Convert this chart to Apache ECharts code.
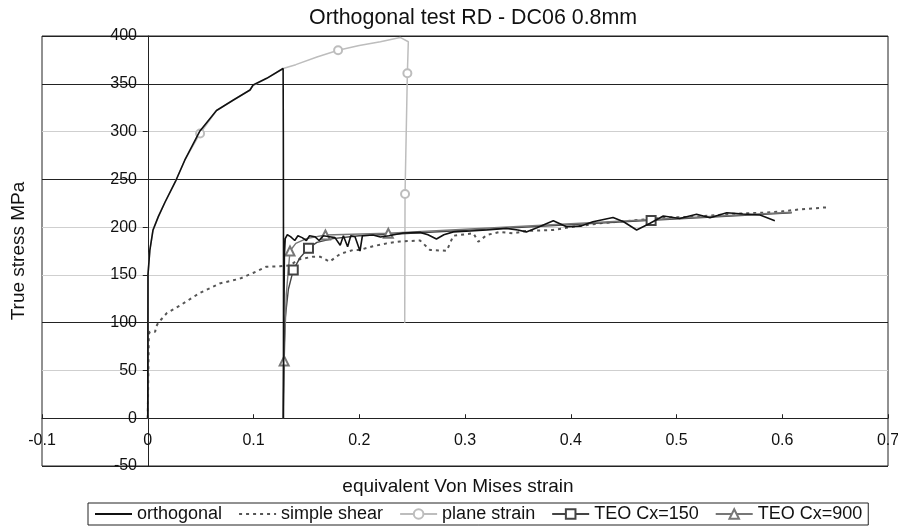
<!DOCTYPE html>
<html>
<head>
<meta charset="utf-8">
<script src="https://cdn.jsdelivr.net/npm/echarts@6/dist/echarts.min.js"></script>
<style>
html,body{margin:0;padding:0;background:#fff;}
#chart{width:898px;height:528px;}
</style>
</head>
<body>
<div id="chart"></div>
<script>
// ---- data (strain, true stress MPa) ----
const orthogonalData = [
  [0,0],[0.0002,150],[0.002,176],[0.005,197],[0.01,211],[0.0163,226],[0.0267,249],[0.035,270],
  [0.049,300],[0.065,322],[0.081,333],[0.0967,343.5],[0.098,344],[0.0996,348.7],[0.1125,355.7],
  [0.128,366],[0.1282,300],[0.1284,150],[0.1283,0],
  [0.1287,100],[0.1292,170],[0.130,188],[0.132,192],[0.135,190],[0.139,186],[0.142,191],[0.146,189],
  [0.150,186],[0.153,191],[0.158,190],[0.162,186],[0.166,191],[0.172,190],[0.177,189],[0.182,181],
  [0.185,191],[0.189,179.5],[0.192,191],[0.196,190],[0.2007,175],[0.203,191],[0.213,191.7],[0.22,189.6],
  [0.228,191],[0.2415,193.8],[0.2575,194.5],[0.265,192],[0.273,187.5],[0.28,192],[0.289,195],[0.305,196],
  [0.3205,197],[0.339,198.7],[0.35,197],[0.358,195],[0.368,199.4],[0.3835,206.7],[0.396,200.4],[0.409,201],
  [0.421,205.6],[0.44,210],[0.45,205.6],[0.4623,197],[0.475,204],[0.4875,211.6],[0.503,209],[0.519,213.4],
  [0.5317,209.8],[0.5475,215],[0.563,213.7],[0.579,212.6],[0.593,206.7]
];
const simpleShearData = [
  [0,0],[0.001,88],[0.002,90.5],[0.007,90.5],[0.008,96],[0.01,100],[0.018,110],[0.0305,118],[0.049,131],
  [0.068,141],[0.087,146],[0.0996,152],[0.112,158.5],[0.125,159],[0.135,160],[0.142,166],[0.156,169],
  [0.163,169],[0.172,163.8],[0.182,172],[0.194,176],[0.2,176],[0.213,180],[0.226,183],[0.2385,185],
  [0.2575,186],[0.267,176],[0.2827,175.3],[0.289,191],[0.308,193.5],[0.3126,184.7],[0.3205,191.7],
  [0.333,195],[0.3457,193.5],[0.358,196],[0.3835,197],[0.4024,200.4],[0.428,204],[0.459,207],[0.49,210],
  [0.52,211],[0.554,214],[0.581,215],[0.6,216.5],[0.617,218.6],[0.642,220.7]
];
const planeStrainData = [
  [0,0],[0.0002,150],[0.002,176],[0.005,197],[0.01,211],[0.0163,226],[0.0267,249],[0.035,270],
  [0.0495,298],[0.065,322],[0.081,333],[0.0967,343.5],[0.0996,348],[0.1125,355.7],[0.128,366],
  [0.14,370],[0.16,378],[0.18,385],[0.2,390],[0.22,394],[0.2387,398.5],[0.2464,394],[0.2455,361],
  [0.2433,234.6],[0.243,100]
];
const planeStrainMarkers = [8, 17, 22, 23];
const teo150Data = [
  [0.128,0],[0.1285,60],[0.130,105],[0.133,135],[0.1376,155],[0.144,168],[0.152,178],[0.16,184],
  [0.175,188],[0.2,191],[0.24,193],[0.476,207],[0.609,215]
];
const teo150Markers = [4, 6, 11];
const teo900Data = [
  [0.128,0],[0.129,60],[0.131,130],[0.1345,175],[0.14,183],[0.15,188],[0.168,191.7],[0.2275,193.5],
  [0.609,215.5]
];
const teo900Markers = [1, 3, 6, 7];

const xTicks = {min: -0.1, max: 0.7, step: 0.1};
const yTicks = {min: -50, max: 400, step: 50};

function withMarkers(data, markers) {
  return data.map((p, i) => markers.indexOf(i) >= 0 ? {value: p} : {value: p, symbol: 'none'});
}

const FONT = 'Liberation Sans, Arial, sans-serif';
const chart = echarts.init(document.getElementById('chart'), null, {renderer: 'canvas'});
chart.setOption({
  animation: false,
  backgroundColor: '#fff',
  title: {
    text: 'Orthogonal test RD - DC06 0.8mm',
    left: 304, top: 3,
    textStyle: {fontFamily: FONT, fontSize: 21.4, fontWeight: 'normal', color: '#111'}
  },
  grid: {
    left: 42, right: 10, top: 36, bottom: 62,
    containLabel: false, outerBoundsMode: 'none',
    show: true, borderColor: '#222', borderWidth: 1, backgroundColor: '#fff'
  },
  legend: {
    left: 88, top: 503,
    padding: [2, 6, 2, 6],
    itemGap: 16, itemWidth: 37, itemHeight: 12,
    borderColor: '#222', borderWidth: 1, borderRadius: 0,
    textStyle: {fontFamily: FONT, fontSize: 18, color: '#111'},
    data: [
      {name: 'orthogonal', itemStyle: {opacity: 0}},
      {name: 'simple shear', itemStyle: {opacity: 0}},
      'plane strain', 'TEO Cx=150', 'TEO Cx=900'
    ]
  },
  xAxis: {
    type: 'value', min: xTicks.min, max: xTicks.max, interval: xTicks.step,
    name: 'equivalent Von Mises strain', nameLocation: 'middle', nameGap: 11, nameMoveOverlap: false,
    nameTextStyle: {fontFamily: FONT, fontSize: 19, color: '#111', padding: [0, 14, 0, 0]},
    axisLine: {onZero: true, lineStyle: {color: '#222', width: 1}},
    axisTick: {show: true, inside: true, length: 4, lineStyle: {color: '#222'}},
    axisLabel: {fontFamily: FONT, fontSize: 16, color: '#111', margin: -33},
    splitLine: {show: false}
  },
  yAxis: {
    type: 'value', min: yTicks.min, max: yTicks.max, interval: yTicks.step,
    name: 'True stress MPa', nameLocation: 'middle', nameGap: 14, nameMoveOverlap: false,
    nameTextStyle: {fontFamily: FONT, fontSize: 19, color: '#111'},
    axisLine: {onZero: true, lineStyle: {color: '#222', width: 1}},
    axisTick: {show: true, length: 5, lineStyle: {color: '#222'}},
    axisLabel: {fontFamily: FONT, fontSize: 16, color: '#111', margin: -95},
    splitLine: {show: true, lineStyle: {width: 1, color: ['#222','#222','#cfcfcf','#222','#cfcfcf','#cfcfcf','#222','#cfcfcf','#222','#222']}}
  },
  series: [
    {
      name: 'orthogonal', type: 'line', data: orthogonalData, showSymbol: false, symbol: 'none',
      lineStyle: {color: '#111', width: 1.6}, itemStyle: {color: '#111'}, z: 5
    },
    {
      name: 'simple shear', type: 'line', data: simpleShearData, showSymbol: false, symbol: 'none',
      lineStyle: {color: '#555', width: 2, type: [3, 4]}, itemStyle: {color: '#555'}, z: 3
    },
    {
      name: 'plane strain', type: 'line', data: withMarkers(planeStrainData, planeStrainMarkers),
      symbol: 'emptyCircle', symbolSize: 8, showSymbol: true,
      lineStyle: {color: '#bdbdbd', width: 1.5}, itemStyle: {color: '#bdbdbd', borderWidth: 1.2}, z: 2
    },
    {
      name: 'TEO Cx=150', type: 'line', data: withMarkers(teo150Data, teo150Markers),
      symbol: 'emptyRect', symbolSize: 9, showSymbol: true,
      lineStyle: {color: '#444', width: 1.4}, itemStyle: {color: '#444', borderWidth: 1.2}, z: 4
    },
    {
      name: 'TEO Cx=900', type: 'line', data: withMarkers(teo900Data, teo900Markers),
      symbol: 'emptyTriangle', symbolSize: 9, showSymbol: true,
      lineStyle: {color: '#777', width: 1.4}, itemStyle: {color: '#777', borderWidth: 1.2}, z: 4
    }
  ]
});
</script>
</body>
</html>
